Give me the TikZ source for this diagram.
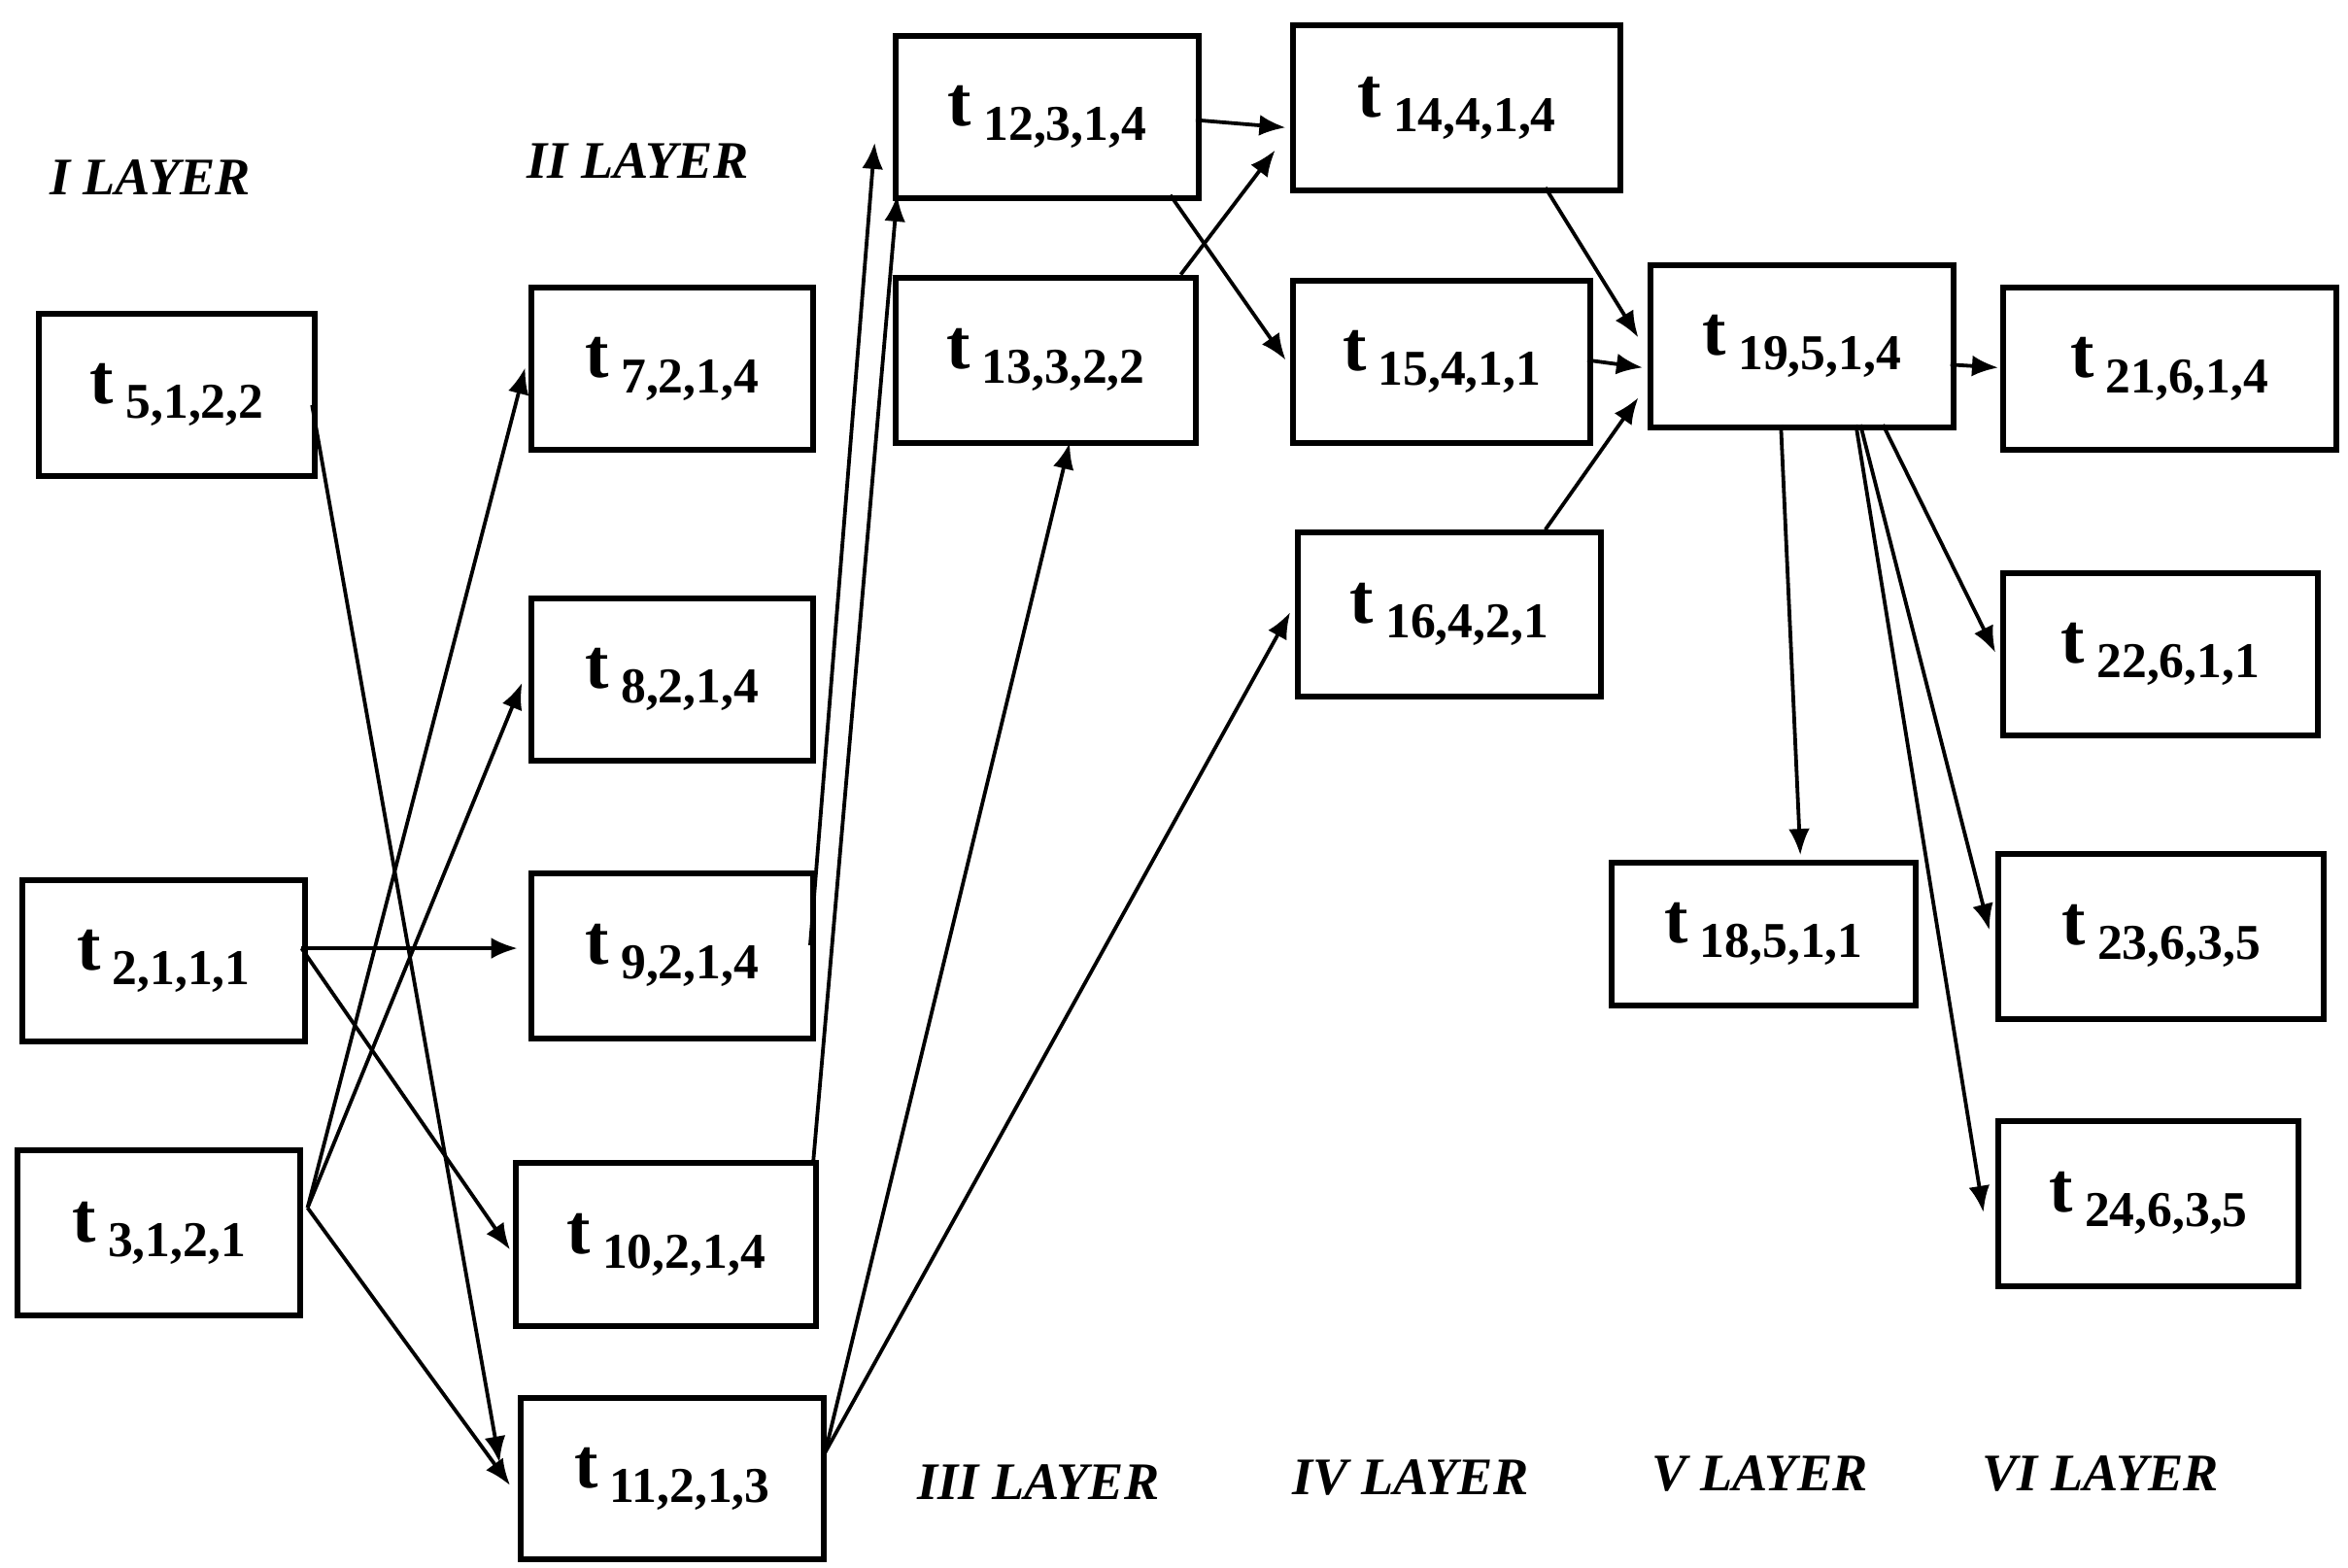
\documentclass[tikz,border=0pt]{standalone}
\usepackage{fontspec}
\setmainfont{Liberation Serif}
\usetikzlibrary{calc,arrows.meta}
\newcommand{\tl}[1]{t\,\raisebox{-0.45ex}{\fontsize{9.5}{10}\selectfont #1}}
\begin{document}
\begin{tikzpicture}[x=0.01cm,y=-0.01cm,
 box/.style={draw,line width=1.1pt,anchor=north west,inner sep=0pt,font=\fontsize{13.5}{14}\selectfont\bfseries},
 lay/.style={font=\fontsize{10}{12}\selectfont\bfseries\itshape},
 a/.style={-{Latex[length=5pt,width=4pt]},line width=0.7pt}]
\useasboundingbox (0,0) rectangle (1565,1045);
\node[box,minimum width=1.84cm,minimum height=1.08cm] (t5) at (24,207) {\tl{5,1,2,2}};
\node[box,minimum width=1.88cm,minimum height=1.07cm] (t2) at (13,585) {\tl{2,1,1,1}};
\node[box,minimum width=1.88cm,minimum height=1.10cm] (t3) at (10,765) {\tl{3,1,2,1}};
\node[box,minimum width=1.88cm,minimum height=1.08cm] (t7) at (352,190) {\tl{7,2,1,4}};
\node[box,minimum width=1.88cm,minimum height=1.08cm] (t8) at (352,397) {\tl{8,2,1,4}};
\node[box,minimum width=1.88cm,minimum height=1.10cm] (t9) at (352,580) {\tl{9,2,1,4}};
\node[box,minimum width=2.00cm,minimum height=1.09cm] (t10) at (342,773) {\tl{10,2,1,4}};
\node[box,minimum width=2.02cm,minimum height=1.07cm] (t11) at (345,930) {\tl{11,2,1,3}};
\node[box,minimum width=2.02cm,minimum height=1.08cm] (t12) at (595,22) {\tl{12,3,1,4}};
\node[box,minimum width=2.00cm,minimum height=1.10cm] (t13) at (595,183) {\tl{13,3,2,2}};
\node[box,minimum width=2.18cm,minimum height=1.10cm] (t14) at (860,15) {\tl{14,4,1,4}};
\node[box,minimum width=1.98cm,minimum height=1.08cm] (t15) at (860,185) {\tl{15,4,1,1}};
\node[box,minimum width=2.02cm,minimum height=1.09cm] (t16) at (863,353) {\tl{16,4,2,1}};
\node[box,minimum width=2.02cm,minimum height=1.08cm] (t19) at (1098,175) {\tl{19,5,1,4}};
\node[box,minimum width=2.22cm,minimum height=1.08cm] (t21) at (1333,190) {\tl{21,6,1,4}};
\node[box,minimum width=2.10cm,minimum height=1.08cm] (t22) at (1333,380) {\tl{22,6,1,1}};
\node[box,minimum width=2.17cm,minimum height=1.10cm] (t23) at (1330,567) {\tl{23,6,3,5}};
\node[box,minimum width=2.00cm,minimum height=1.10cm] (t24) at (1330,745) {\tl{24,6,3,5}};
\node[box,minimum width=2.03cm,minimum height=0.95cm] (t18) at (1072,573) {\tl{18,5,1,1}};
\node[lay] (L1) at (100,118) {I LAYER};
\node[lay] (L2) at (425,107) {II LAYER};
\node[lay] (L3) at (692,988) {III LAYER};
\node[lay] (L4) at (940,985) {IV LAYER};
\node[lay] (L5) at (1173,982) {V LAYER};
\node[lay] (L6) at (1400,982) {VI LAYER};
\draw[a] ($(t5.north west)+(184,63)$) -- ($(t11.north west)+(-12,45)$);
\draw[a] ($(t2.north west)+(188,47)$) -- ($(t9.north west)+(-7,52)$);
\draw[a] ($(t2.north west)+(188,47)$) -- ($(t10.north west)+(-2,60)$);
\draw[a] ($(t3.north west)+(195,40)$) -- ($(t7.north west)+(-2,55)$);
\draw[a] ($(t3.north west)+(195,40)$) -- ($(t8.north west)+(-4,58)$);
\draw[a] ($(t3.north west)+(195,40)$) -- ($(t11.north west)+(-5,60)$);
\draw[a] ($(t9.north west)+(188,50)$) -- ($(t12.north west)+(-12,73)$);
\draw[a] ($(t10.north west)+(200,2)$) -- ($(t12.north west)+(3,108)$);
\draw[a] ($(t11.north west)+(205,38)$) -- ($(t13.north west)+(118,112)$);
\draw[a] ($(t11.north west)+(205,38)$) -- ($(t16.north west)+(-3,55)$);
\draw[a] ($(t12.north west)+(202,58)$) -- ($(t14.north west)+(-3,70)$);
\draw[a] ($(t12.north west)+(185,108)$) -- ($(t15.north west)+(-3,55)$);
\draw[a] ($(t13.north west)+(192,0)$) -- ($(t14.north west)+(-10,85)$);
\draw[a] ($(t14.north west)+(170,110)$) -- ($(t19.north west)+(-6,50)$);
\draw[a] ($(t15.north west)+(198,55)$) -- ($(t19.north west)+(-3,70)$);
\draw[a] ($(t16.north west)+(167,0)$) -- ($(t19.north west)+(-6,90)$);
\draw[a] ($(t19.north west)+(202,68)$) -- ($(t21.north west)+(-1,55)$);
\draw[a] ($(t19.north west)+(157,108)$) -- ($(t22.north west)+(-3,55)$);
\draw[a] ($(t19.north west)+(142,108)$) -- ($(t23.north west)+(-4,53)$);
\draw[a] ($(t19.north west)+(139,108)$) -- ($(t24.north west)+(-8,63)$);
\draw[a] ($(t19.north west)+(89,108)$) -- ($(t18.north west)+(128,-3)$);
\end{tikzpicture}
\end{document}
